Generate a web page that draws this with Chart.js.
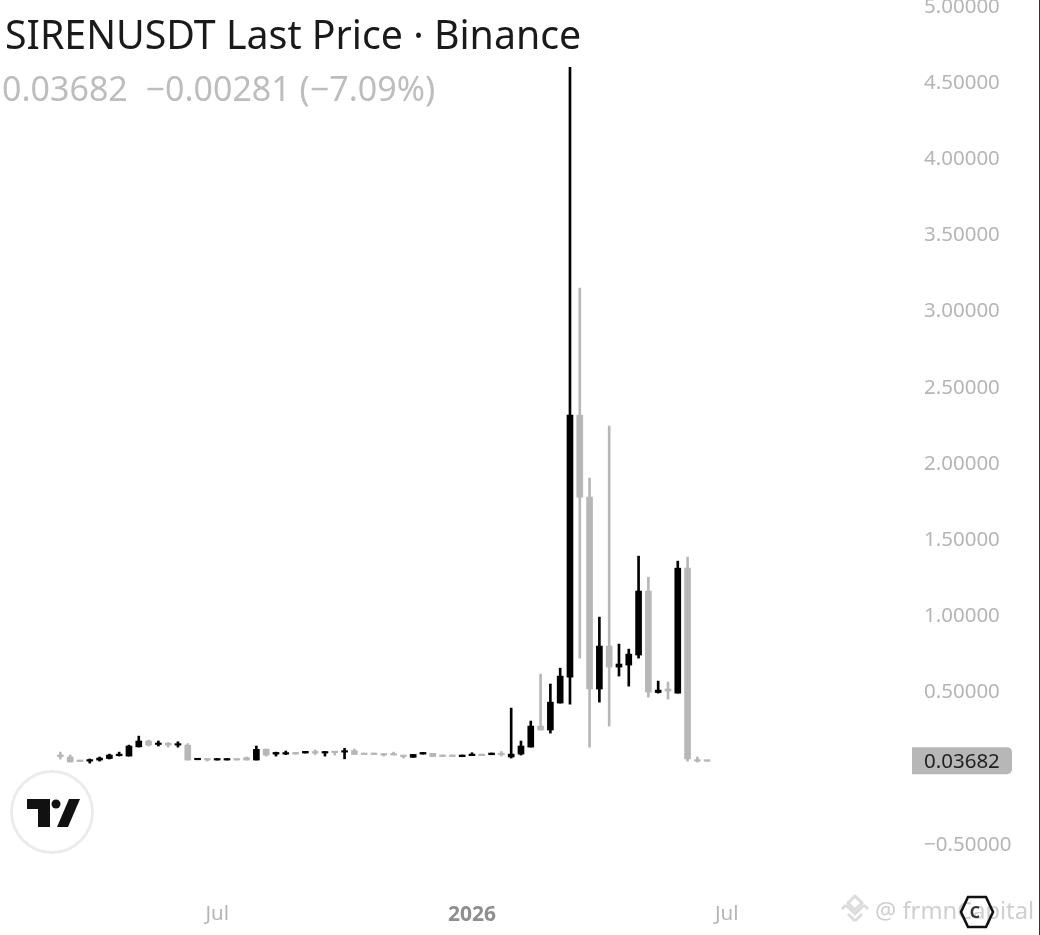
<!DOCTYPE html>
<html>
<head>
<meta charset="utf-8">
<script src="https://cdn.jsdelivr.net/npm/chart.js@4"></script>
<style>
html,body{margin:0;padding:0;background:#fff;width:1040px;height:935px;overflow:hidden}
#wrap{position:relative;width:1040px;height:935px}
#edge{position:absolute;left:1039px;top:0;width:1px;height:935px;background:#333}
canvas{position:absolute;left:0;top:0}
.t{position:absolute;white-space:pre;font-family:"Noto Sans",sans-serif}
#title{left:5px;top:9px;font-size:39.3px;color:#1a1a1a;line-height:50px}
#sub{left:2px;top:66px;font-size:34px;color:#bdbdbd;line-height:44px}
#wm{left:875px;top:895px;font-size:23.7px;color:#cfcfcf;line-height:30px}
svg{position:absolute;left:0;top:0}
</style>
</head>
<body>
<div id="wrap">
<canvas id="c" width="1040" height="935"></canvas>
<div class="t" id="title">SIRENUSDT Last Price · Binance</div>
<div class="t" id="sub">0.03682  −0.00281 (−7.09%)</div>
<div class="t" id="wm">@ frmnCapital</div>
<svg width="1040" height="935" viewBox="0 0 1040 935">
  <circle cx="52" cy="812" r="40.5" fill="#fff" stroke="#ececec" stroke-width="3"/>
  <path d="M27 799H50V827H38V809H27Z" fill="#111"/>
  <circle cx="56" cy="804" r="4.5" fill="#111"/>
  <path d="M69 799H80L68 827H57Z" fill="#111"/>
  <g fill="none" stroke="#dcdcdc" stroke-width="3">
    <path d="M855 896L862 903L855 910L848 903Z"/>
    <path d="M846 905L855 914L864 905"/>
    <path d="M855 921L848 914M855 921L862 914"/>
    <path d="M842 909L846 905M868 909L864 905"/>
  </g>
  <path d="M968 897H986L993 912L986 927H968L961 912Z" fill="none" stroke="#111" stroke-width="2.6"/>
  <text x="975" y="918" font-family="Noto Sans" font-weight="700" font-size="16" fill="#333" text-anchor="middle">C</text>
</svg>
<div id="edge"></div>
</div>
<script>
// Weekly candles, oldest first
const opens  = [.077,.064,.044,.037,.044,.054,.073,.070,.131,.169,.146,.155,.142,.142,.046,.054,.044,.044,.054,.060,.044,.116,.083,.083,.094,.090,.100,.090,.100,.096,.105,.090,.090,.087,.087,.075,.062,.083,.088,.077,.077,.066,.073,.083,.079,.088,.064,.083,.129,.267,.241,.418,.588,2.307,1.769,.510,.792,.654,.667,.733,1.153,.487,.510,.483,1.303,.044,.0396];
const closes = [.067,.031,.034,.047,.057,.077,.083,.136,.169,.142,.155,.142,.151,.044,.055,.044,.054,.054,.044,.044,.114,.077,.094,.093,.083,.101,.090,.100,.093,.105,.081,.080,.080,.077,.077,.067,.081,.094,.066,.067,.067,.077,.083,.073,.090,.079,.083,.136,.267,.241,.424,.595,2.307,1.769,.510,.792,.654,.674,.739,1.153,.490,.503,.497,1.303,.051,.037,.03682];
const highs  = [.096,.077,.044,.051,.064,.083,.096,.142,.201,.175,.169,.159,.164,.152,.055,.054,.054,.054,.054,.064,.136,.116,.096,.103,.094,.101,.110,.100,.100,.121,.116,.090,.090,.087,.096,.075,.081,.094,.088,.077,.077,.077,.092,.083,.090,.100,.385,.169,.300,.608,.543,.647,4.590,3.140,1.894,.982,2.235,.805,.772,1.382,1.244,.562,.556,1.349,1.376,.064,.040];
const lows   = [.051,.031,.034,.024,.037,.051,.070,.070,.129,.136,.136,.129,.129,.044,.046,.037,.044,.044,.044,.044,.044,.070,.070,.080,.083,.090,.080,.070,.077,.052,.080,.080,.080,.070,.077,.057,.062,.083,.066,.067,.067,.066,.073,.073,.079,.070,.057,.077,.129,.241,.221,.418,.411,.713,.129,.424,.267,.595,.529,.713,.457,.483,.444,.483,.037,.031,.035];
const lastPrice = 0.03682;
const lastLabel = "0.03682";
const yTickValues = [-0.5,0,0.5,1,1.5,2,2.5,3,3.5,4,4.5,5];
const xTickIndex = [16,42,68];
const xTickText = ["Jul","2026","Jul"];

const UP = "#000000", DOWN = "#b7b7b7";
const indexes = opens.map((_, i) => i);
const colours = indexes.map(i => closes[i] >= opens[i] ? UP : DOWN);
const wickData = indexes.map(i => ({x:i, y:[lows[i], highs[i]]}));
const bodyData = indexes.map(i => ({x:i, y:[Math.min(opens[i],closes[i]), Math.max(opens[i],closes[i])]}));

const lastPriceTag = {
  id:"lastPriceTag",
  afterDraw(chart){
    const c = chart.ctx, y = chart.scales.y.getPixelForValue(lastPrice);
    c.save();
    c.fillStyle = "#b7b7b7";
    c.beginPath();
    c.roundRect(912, y-14, 100, 27, [0,5,5,0]);
    c.fill();
    c.fillStyle = "#1f1f1f";
    c.font = '20.5px "Noto Sans"';
    c.textBaseline = "middle";
    c.textAlign = "left";
    c.fillText(lastLabel, 924, y + 1);
    c.restore();
  }
};

new Chart(document.getElementById("c"), {
  type:"bar",
  data:{datasets:[
    {label:"wick", data:wickData, backgroundColor:colours, barThickness:2, grouped:false, order:2},
    {label:"body", data:bodyData, backgroundColor:colours, barThickness:6, grouped:false, minBarLength:1.5, order:1}
  ]},
  options:{
    responsive:false, animation:false, devicePixelRatio:1,
    layout:{padding:0, autoPadding:false},
    plugins:{legend:{display:false}, tooltip:{enabled:false}, title:{display:false}},
    scales:{
      x:{
        type:"linear", min:-6.16, max:86.9, offset:false,
        grid:{display:false, drawTicks:false}, border:{display:false},
        afterBuildTicks(s){ s.ticks = xTickIndex.map(v => ({value:v})); },
        afterFit(s){ s.height = 45; },
        ticks:{
          autoSkip:false, maxRotation:0, padding:12, color(ctx){return ctx.index===1?"#8f8f8f":"#b5b5b5";},
          font(ctx){return ctx.index===1?{family:"Noto Sans",size:21,weight:"700"}:{family:"Noto Sans",size:20.5};},
          callback(v,i){ return xTickText[i]; }
        }
      },
      y:{
        position:"right", min:-0.8086, max:5.031,
        grid:{display:false, drawTicks:false}, border:{display:false},
        afterBuildTicks(s){ s.ticks = yTickValues.map(v => ({value:v})); },
        afterFit(s){ s.width = 128; s.paddingTop = 0; s.paddingBottom = 0; },
        ticks:{
          autoSkip:false, padding:12, labelOffset:2, color:"#b5b5b5", font:{family:"Noto Sans",size:20.5},
          callback(v){ return v===0 ? "" : (v<0?"\u2212":"")+Math.abs(v).toFixed(5); }
        }
      }
    }
  },
  plugins:[lastPriceTag]
});
</script>
</body>
</html>
